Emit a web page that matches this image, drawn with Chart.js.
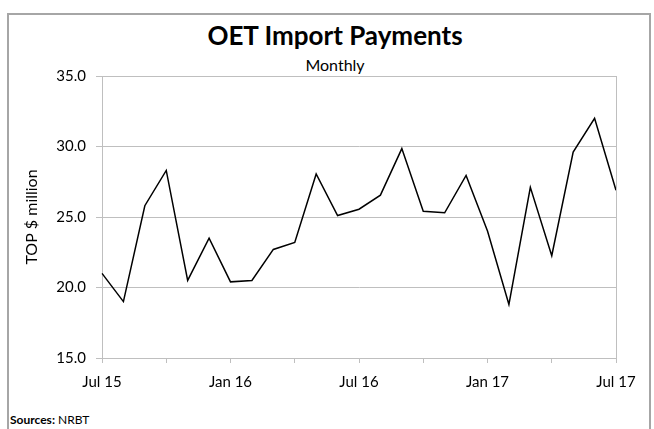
<!DOCTYPE html>
<html>
<head>
<meta charset="utf-8">
<script src="https://cdn.jsdelivr.net/npm/chart.js@4.4.1/dist/chart.umd.min.js"></script>
<style>
  body { margin: 0; background: #fff; font-family: Lato, 'Open Sans', sans-serif; }
  .frame { position: absolute; left: 7px; top: 13px; width: 640px; height: 440px; border: 2px solid #a6a6a6; }
  .title { position: absolute; left: 0; width: 670px; top: 22px; text-align: center; font-weight: bold; font-size: 26px; line-height: 26px; color: #000; }
  .subtitle { position: absolute; left: 0; width: 670px; top: 57px; text-align: center; font-size: 16px; line-height: 16px; color: #000; }
  .source { position: absolute; left: 10px; top: 414px; font-size: 12px; line-height: 12px; color: #000; }
  canvas { position: absolute; left: 0; top: 0; }
</style>
</head>
<body>
<div class="frame"></div>
<div class="title">OET Import Payments</div>
<div class="subtitle">Monthly</div>
<div class="source"><b>Sources:</b> NRBT</div>
<canvas id="chart" width="654" height="429"></canvas>
<script>
'use strict';

const months = [
  'Jul 15', 'Aug 15', 'Sep 15', 'Oct 15', 'Nov 15', 'Dec 15',
  'Jan 16', 'Feb 16', 'Mar 16', 'Apr 16', 'May 16', 'Jun 16',
  'Jul 16', 'Aug 16', 'Sep 16', 'Oct 16', 'Nov 16', 'Dec 16',
  'Jan 17', 'Feb 17', 'Mar 17', 'Apr 17', 'May 17', 'Jun 17',
  'Jul 17',
];
const payments = [
  21.0, 19.0, 25.8, 28.3, 20.5, 23.5,
  20.4, 20.5, 22.7, 23.2, 28.05, 25.1,
  25.55, 26.55, 29.85, 25.4, 25.3, 27.95,
  24.0, 18.8, 27.1, 22.25, 29.6, 32.0,
  26.9,
];
const yTicks = [15, 20, 25, 30, 35];

const gridGrey = '#bfbfbf';

// right edge of the plot box
const plotFrame = {
  id: 'plotFrame',
  afterDraw(chart) {
    const { ctx, chartArea } = chart;
    ctx.save();
    ctx.strokeStyle = gridGrey;
    ctx.lineWidth = 1;
    ctx.beginPath();
    ctx.moveTo(chartArea.right + 0.5, chartArea.top);
    ctx.lineTo(chartArea.right + 0.5, chartArea.bottom);
    ctx.stroke();
    ctx.restore();
  },
};

const ctx = document.getElementById('chart').getContext('2d');

new Chart(ctx, {
  type: 'line',
  data: {
    labels: months,
    datasets: [
      {
        data: payments,
        borderColor: '#000',
        borderWidth: 1.5,
        pointRadius: 0,
        tension: 0,
        fill: false,
      },
    ],
  },
  options: {
    responsive: false,
    animation: false,
    layout: {
      padding: { top: 76, right: 38, left: 20, bottom: 0 },
    },
    plugins: {
      legend: { display: false },
      tooltip: { enabled: false },
    },
    scales: {
      x: {
        offset: false,
        afterFit: scale => {
          scale.height = 71;
        },
        grid: {
          drawOnChartArea: false,
          tickLength: 5,
          tickColor: c => (c.index % 3 === 0 ? gridGrey : 'transparent'),
        },
        border: { color: gridGrey },
        ticks: {
          autoSkip: false,
          maxRotation: 0,
          padding: 10,
          color: '#000',
          font: { family: 'Lato', size: 15 },
          callback: (v, i) => (i % 6 === 0 ? months[i] : ''),
        },
      },
      y: {
        min: yTicks[0],
        max: yTicks[yTicks.length - 1],
        afterFit: scale => {
          scale.width = 82;
        },
        afterBuildTicks: scale => {
          scale.ticks = yTicks.map(v => ({ value: v }));
        },
        grid: {
          color: gridGrey,
          tickLength: 6,
          tickColor: gridGrey,
        },
        border: { color: gridGrey },
        ticks: {
          padding: 10,
          color: '#000',
          font: { family: 'Lato', size: 15 },
          callback: v => v.toFixed(1),
        },
        title: {
          display: true,
          text: 'TOP $ million',
          color: '#000',
          font: { family: 'Lato', size: 16 },
          padding: { top: 2, bottom: 0 },
        },
      },
    },
  },
  plugins: [plotFrame],
});
</script>
</body>
</html>
